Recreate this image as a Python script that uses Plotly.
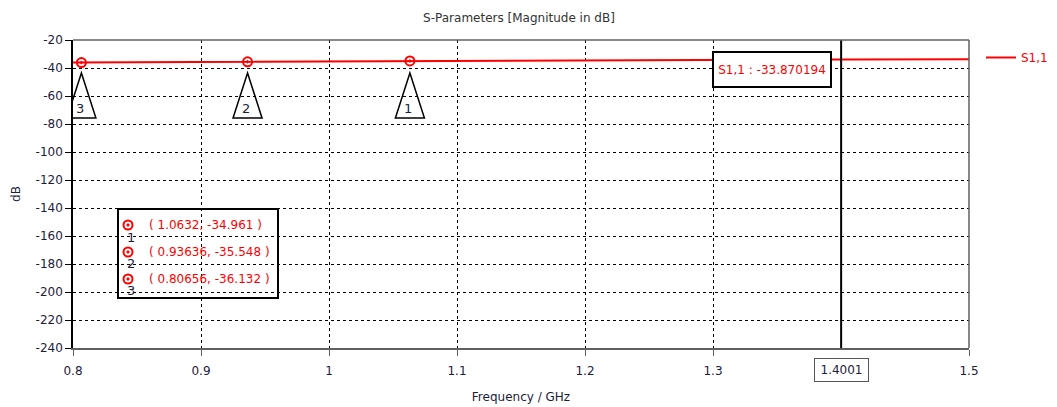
import plotly.graph_objects as go

# ---- data ----
freq = [0.8, 0.80656, 0.93636, 1.0632, 1.25, 1.4001, 1.5]
s11_db = [-36.16, -36.132, -35.548, -34.961, -34.3, -33.870194, -33.7]

marker_ids = ["1", "2", "3"]
marker_x = [1.0632, 0.93636, 0.80656]
marker_y = [-34.961, -35.548, -36.132]
marker_x_txt = ["1.0632", "0.93636", "0.80656"]
marker_y_txt = ["-34.961", "-35.548", "-36.132"]

cursor_x = 1.4001
cursor_val = "-33.870194"

x_ticks = [0.8, 0.9, 1.0, 1.1, 1.2, 1.3, 1.5]
x_tick_labels = ["0.8", "0.9", "1", "1.1", "1.2", "1.3", "1.5"]
y_ticks = list(range(-240, -19, 20))
y_tick_labels = [str(v) for v in y_ticks]

# ---- layout constants (window pixels; page body has an 8px margin) ----
WIN_W, WIN_H = 1057, 407
OFF = 8
W, H = WIN_W - OFF, WIN_H - OFF
PX0, PX1, PY0, PY1 = 73, 969, 40, 348      # plot area in window pixels
L, T = PX0 - OFF, PY0 - OFF
R = W - (PX1 - OFF)
B = H - (PY1 - OFF)
PW, PH = PX1 - PX0, PY1 - PY0
XR = (0.8, 1.5)
YR = (-240, -20)
gx = (XR[1] - XR[0]) / PW   # GHz per px
gy = (YR[1] - YR[0]) / PH   # dB per px

RED = "#ff0000"
NAVY = "#1c1c3c"
FONT = "DejaVu Sans"

fig = go.Figure()

fig.add_trace(go.Scatter(
    x=freq, y=s11_db, mode="lines", name="S1,1",
    line=dict(color=RED, width=2), showlegend=True))

fig.add_trace(go.Scatter(
    x=marker_x, y=marker_y, mode="markers", showlegend=False,
    marker=dict(symbol="circle-open-dot", size=9, color=RED, line=dict(width=2, color=RED))))

# overlay axis in window-pixel coordinates for the marker table
fig.add_trace(go.Scatter(
    x=[128] * 3, y=[225 + 27 * i for i in range(3)], mode="markers", showlegend=False,
    xaxis="x2", yaxis="y2",
    marker=dict(symbol="circle-open-dot", size=9, color=RED, line=dict(width=2, color=RED))))

shapes = []
annotations = []

# triangles under markers
apex_y = YR[1] - (73 - PY0) * gy
base_y = YR[1] - (118 - PY0) * gy
hw = 14.5 * gx
for mid, mx in zip(marker_ids, marker_x):
    shapes.append(dict(type="path", xref="x", yref="y",
                       path=f"M {mx} {apex_y} L {mx - hw} {base_y} L {mx + hw} {base_y} Z",
                       line=dict(color="black", width=1.5), fillcolor="rgba(0,0,0,0)"))
    annotations.append(dict(x=mx - 1.5 * gx, y=YR[1] - (108 - PY0) * gy, xref="x", yref="y",
                            text=mid, showarrow=False,
                            font=dict(family=FONT, size=13, color=NAVY)))

# cursor line
shapes.append(dict(type="line", xref="x", yref="paper", x0=cursor_x, x1=cursor_x, y0=0, y1=1,
                   line=dict(color="black", width=2)))
# top and right frame
shapes.append(dict(type="line", xref="paper", yref="paper", x0=0, x1=1, y0=1, y1=1,
                   line=dict(color="#606060", width=1.5)))
shapes.append(dict(type="line", xref="paper", yref="paper", x0=1, x1=1, y0=0, y1=1,
                   line=dict(color="#606060", width=1.5)))
# marker table box
shapes.append(dict(type="rect", xref="x2", yref="y2", x0=118, x1=278, y0=209, y1=298,
                   line=dict(color="black", width=2), fillcolor="white", layer="below"))

for i, (mid, xt, yt) in enumerate(zip(marker_ids, marker_x_txt, marker_y_txt)):
    annotations.append(dict(x=147, y=225 + 27 * i, xref="x2", yref="y2", xanchor="left",
                            text=f"( {xt}, {yt} )", showarrow=False,
                            font=dict(family=FONT, size=12, color=RED)))
    annotations.append(dict(x=131, y=237 + 26.5 * i, xref="x2", yref="y2",
                            text=mid, showarrow=False,
                            font=dict(family=FONT, size=13, color=NAVY)))

# cursor readout box
annotations.append(dict(x=772, y=69.5, xref="x2", yref="y2",
                        text=f"S1,1 : {cursor_val}", showarrow=False,
                        width=116, height=33, borderpad=0, borderwidth=2, bordercolor="black",
                        bgcolor="white", font=dict(family=FONT, size=12, color=RED)))
# cursor x label
annotations.append(dict(x=cursor_x, y=-(370 - PY1) / PH, xref="x", yref="paper",
                        xanchor="center", yanchor="middle",
                        text=f"{cursor_x}", showarrow=False,
                        width=53, height=22, borderpad=0, borderwidth=1, bordercolor="#555555",
                        bgcolor="white", font=dict(family=FONT, size=12, color=NAVY)))

fig.update_layout(
    width=W, height=H,
    margin=dict(l=L, r=R, t=T, b=B, autoexpand=False),
    paper_bgcolor="white", plot_bgcolor="white",
    font=dict(family=FONT, size=12, color=NAVY),
    title=dict(text="S-Parameters [Magnitude in dB]", x=(PX0 + PW / 2 - 2 - OFF) / W, xanchor="center",
               y=1 - (18 - OFF) / H, yanchor="middle", yref="container",
               font=dict(family=FONT, size=12, color="#333333")),
    xaxis=dict(range=list(XR), tickvals=x_ticks, ticktext=x_tick_labels,
               showgrid=True, gridcolor="black", griddash="3px,3px", gridwidth=1,
               showline=True, linecolor="#606060", linewidth=1.5,
               ticks="outside", ticklen=6, tickcolor="#606060", ticklabelstandoff=5,
               zeroline=False, automargin=False,
               title=dict(text="Frequency / GHz", standoff=15, font=dict(family=FONT, size=12, color=NAVY))),
    yaxis=dict(range=list(YR), tickvals=y_ticks, ticktext=y_tick_labels,
               showgrid=True, gridcolor="black", griddash="3px,3px", gridwidth=1,
               showline=True, linecolor="black", linewidth=1.5,
               ticks="outside", ticklen=6, tickcolor="black",
               zeroline=False, automargin=False,
               title=dict(text="dB", standoff=12, font=dict(family=FONT, size=12, color=NAVY))),
    xaxis2=dict(range=[PX0, PX1], overlaying="x", visible=False, fixedrange=True),
    yaxis2=dict(range=[PY1, PY0], overlaying="y", visible=False, fixedrange=True),
    legend=dict(x=1.0 + 12 / PW, y=1 - 3 / PH, xanchor="left", yanchor="top",
                bgcolor="rgba(0,0,0,0)", font=dict(family=FONT, size=12, color=RED),
                itemwidth=30),
    shapes=shapes, annotations=annotations,
)

fig.write_html("out.html")
